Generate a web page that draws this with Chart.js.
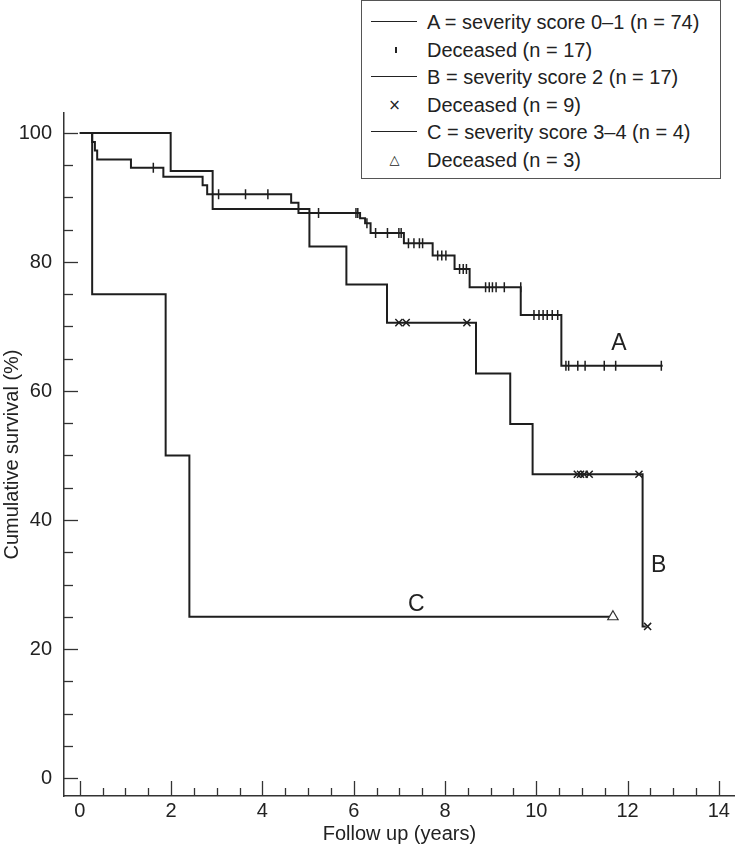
<!DOCTYPE html>
<html>
<head>
<meta charset="utf-8">
<title>Cumulative survival by severity score</title>
<script src="https://cdn.jsdelivr.net/npm/chart.js@4.4.1/dist/chart.umd.min.js"></script>
<style>
  html, body { margin: 0; padding: 0; background: #fff; }
  #wrap { position: relative; width: 742px; height: 853px; }
  #legendBox {
    position: absolute; left: 361px; top: 0; width: 358px; height: 177px;
    border: 1.5px solid #555; background: #fff;
    font-family: "Liberation Sans", Arial, Helvetica, sans-serif; font-size: 20px; color: #222;
  }
  .row { position: absolute; left: 0; height: 28px; line-height: 28px; width: 100%; }
  .sym { position: absolute; left: 9px; width: 46px; height: 28px; }
  .txt { position: absolute; left: 65px; white-space: nowrap; }
  .sym .line { position: absolute; left: 0; right: 0; top: 13px; border-top: 1.5px solid #222; }
  .sym .tick { position: absolute; left: 24px; top: 11px; width: 1.5px; height: 6px; background: #222; }
  .sym .mark { position: absolute; left: 1px; right: 0; text-align: center; font-family: "DejaVu Sans", sans-serif; }
</style>
</head>
<body>
<div id="wrap">
  <canvas id="survivalChart" width="742" height="853"></canvas>
  <div id="legendBox">
    <div class="row" style="top:7px"><span class="sym"><i class="line"></i></span><span class="txt">A = severity score 0–1 (n = 74)</span></div>
    <div class="row" style="top:34.5px"><span class="sym"><i class="tick"></i></span><span class="txt">Deceased (n = 17)</span></div>
    <div class="row" style="top:62px"><span class="sym"><i class="line"></i></span><span class="txt">B = severity score 2 (n = 17)</span></div>
    <div class="row" style="top:89.5px"><span class="sym"><span class="mark" style="font-size:15px">×</span></span><span class="txt">Deceased (n = 9)</span></div>
    <div class="row" style="top:117px"><span class="sym"><i class="line"></i></span><span class="txt">C = severity score 3–4 (n = 4)</span></div>
    <div class="row" style="top:144.5px"><span class="sym"><span class="mark" style="font-size:13px">△</span></span><span class="txt">Deceased (n = 3)</span></div>
  </div>
</div>
<script>
// Group A: severity score 0-1 (step curve, survival after each drop)
const aTimes = [0, 0.27, 0.33, 0.38, 1.12, 1.83, 2.69, 2.79, 4.63, 4.79, 6.14, 6.25, 6.37, 7.10, 7.73, 8.21, 8.54, 9.66, 10.55, 12.77];
const aSurvival = [100, 98.6, 97.3, 95.9, 94.6, 93.2, 91.9, 90.5, 89.2, 87.6, 86.8, 86.0, 84.5, 82.9, 81.0, 78.9, 76.1, 71.8, 63.9, 63.9];
const aMarkTimes = [1.61, 3.04, 3.63, 4.12, 5.23, 6.05, 6.09, 6.29, 6.48, 6.74, 6.99, 7.04, 7.20, 7.32, 7.44, 7.51,
  7.84, 7.93, 8.02, 8.32, 8.40, 8.47, 8.89, 8.97, 9.04, 9.12, 9.30, 9.66, 9.95, 10.06, 10.15, 10.24, 10.35, 10.47,
  10.65, 10.71, 10.91, 11.07, 11.49, 11.74, 12.74];
const aMarkSurvival = [94.6, 90.5, 90.5, 90.5, 87.6, 87.6, 87.6, 86.0, 84.5, 84.5, 84.5, 84.5, 82.9, 82.9, 82.9, 82.9,
  81.0, 81.0, 81.0, 78.9, 78.9, 78.9, 76.1, 76.1, 76.1, 76.1, 76.1, 76.1, 71.8, 71.8, 71.8, 71.8, 71.8, 71.8,
  63.9, 63.9, 63.9, 63.9, 63.9, 63.9, 63.9];

// Group B: severity score 2
const bTimes = [0, 1.99, 2.91, 5.03, 5.84, 6.73, 8.68, 9.43, 9.92, 12.33, 12.40];
const bSurvival = [100, 94.1, 88.2, 82.4, 76.5, 70.6, 62.7, 54.9, 47.1, 23.5, 23.5];
const bMarkTimes = [6.99, 7.15, 8.48, 10.90, 10.97, 11.05, 11.16, 12.25, 12.44];
const bMarkSurvival = [70.6, 70.6, 70.6, 47.1, 47.1, 47.1, 47.1, 47.1, 23.5];

// Group C: severity score 3-4
const cTimes = [0, 0.27, 1.88, 2.40, 11.68];
const cSurvival = [100, 75, 50, 25, 25];
const cMarkTimes = [11.68];
const cMarkSurvival = [25];

// Axis ticks and curve labels
const xTickLabels = [0, 2, 4, 6, 8, 10, 12, 14];
const yTickLabels = [0, 20, 40, 60, 80, 100];
const curveNames = ["A", "B", "C"];
const curveNameX = [11.81, 12.68, 7.37];
const curveNameY = [67.4, 32.9, 26.8];

const ink = "#1e1e1e";
const fontFamily = "'Liberation Sans', Arial, Helvetica, sans-serif";

function toPoints(xs, ys) {
  return xs.map((x, i) => ({ x: x, y: ys[i] }));
}

document.addEventListener("DOMContentLoaded", () => {
  const ctx = document.getElementById("survivalChart").getContext("2d"); // Canvas context for Chart.js

  // Ticks pointing into the plot, majors longer than minors
  const innerTicks = {
    id: "innerTicks",
    afterDraw(chart) {
      const { ctx, chartArea, scales } = chart;
      ctx.save();
      ctx.strokeStyle = "#333";
      ctx.lineWidth = 1.3;
      for (let v = 0; v <= 14; v += 0.5) {
        const x = Math.round(scales.x.getPixelForValue(v)) + 0.5;
        const len = v % 2 === 0 ? 15 : 8;
        ctx.beginPath();
        ctx.moveTo(x, chartArea.bottom);
        ctx.lineTo(x, chartArea.bottom - len);
        ctx.stroke();
      }
      for (let v = 0; v <= 100; v += 5) {
        const y = Math.round(scales.y.getPixelForValue(v)) + 0.5;
        const len = v % 20 === 0 ? 14 : 9;
        ctx.beginPath();
        ctx.moveTo(chartArea.left, y);
        ctx.lineTo(chartArea.left + len, y);
        ctx.stroke();
      }
      ctx.restore();
    },
  };

  // Letters naming each curve
  const curveLabels = {
    id: "curveLabels",
    afterDatasetsDraw(chart) {
      const { ctx, scales } = chart;
      ctx.save();
      ctx.fillStyle = "#222";
      ctx.font = "23px " + fontFamily;
      ctx.textAlign = "center";
      ctx.textBaseline = "middle";
      curveNames.forEach((name, i) => {
        ctx.fillText(name, scales.x.getPixelForValue(curveNameX[i]), scales.y.getPixelForValue(curveNameY[i]));
      });
      ctx.restore();
    },
  };

  const stepLine = (label, xs, ys) => ({
    label: label,
    data: toPoints(xs, ys),
    showLine: true,
    stepped: true, // Kaplan-Meier style steps
    borderColor: ink,
    borderWidth: 2,
    pointRadius: 0,
    fill: false,
    order: 2,
  });

  new Chart(ctx, {
    type: "scatter",
    data: {
      datasets: [
        stepLine("A", aTimes, aSurvival),
        stepLine("B", bTimes, bSurvival),
        stepLine("C", cTimes, cSurvival),
        {
          label: "A deceased",
          data: toPoints(aMarkTimes, aMarkSurvival),
          pointStyle: "line",
          rotation: 90,
          pointRadius: 5,
          borderColor: ink,
          borderWidth: 1.5,
          order: 1,
        },
        {
          label: "B deceased",
          data: toPoints(bMarkTimes, bMarkSurvival),
          pointStyle: "crossRot",
          pointRadius: 5,
          borderColor: ink,
          borderWidth: 1.5,
          order: 1,
        },
        {
          label: "C deceased",
          data: toPoints(cMarkTimes, cMarkSurvival),
          pointStyle: "triangle",
          pointRadius: 6,
          borderColor: "#333",
          backgroundColor: "#fff",
          borderWidth: 1.2,
          order: 1,
        },
      ],
    },
    options: {
      responsive: false,
      animation: false,
      layout: { padding: { top: 113, right: 0, left: 0, bottom: 0 } },
      plugins: {
        legend: { display: false }, // Legend is the HTML box above
        tooltip: { enabled: false },
      },
      scales: {
        x: {
          type: "linear",
          min: -0.347,
          max: 14.35,
          afterBuildTicks: (scale) => { scale.ticks = xTickLabels.map((v) => ({ value: v })); },
          afterFit: (scale) => { scale.height = 57; },
          grid: { display: false, drawTicks: false },
          border: { display: true, color: "#333", width: 1.5 },
          ticks: { padding: 3, color: "#222", font: { family: fontFamily, size: 20 }, maxRotation: 0, autoSkip: false },
          title: { display: true, text: "Follow up (years)", color: "#222", font: { family: fontFamily, size: 20 }, padding: { top: 0, bottom: 7 } },
        },
        y: {
          type: "linear",
          min: -2.79,
          max: 103.1,
          afterBuildTicks: (scale) => { scale.ticks = yTickLabels.map((v) => ({ value: v })); },
          afterFit: (scale) => { scale.width = 64; },
          grid: { display: false, drawTicks: false },
          border: { display: true, color: "#333", width: 1.5 },
          ticks: { padding: 12, color: "#222", font: { family: fontFamily, size: 20 } },
          title: { display: true, text: "Cumulative survival (%)", color: "#222", font: { family: fontFamily, size: 20 }, padding: { top: 0, bottom: 0 } },
        },
      },
    },
    plugins: [innerTicks, curveLabels],
  });
});
</script>
</body>
</html>
